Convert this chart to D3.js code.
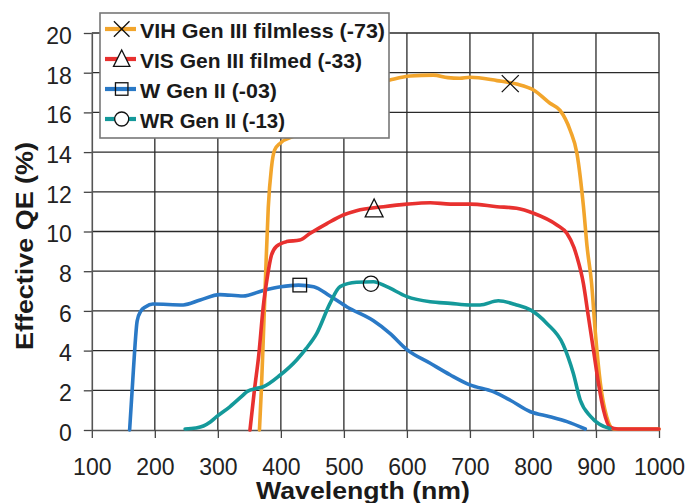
<!DOCTYPE html>
<html>
<head>
<meta charset="utf-8">
<script src="https://cdn.jsdelivr.net/npm/d3@7/dist/d3.min.js"></script>
<style>
  html, body { margin: 0; padding: 0; background: #fff; }
  svg { display: block; font-family: "Liberation Sans", Arial, sans-serif; }
</style>
</head>
<body>
<svg id="chart" width="689" height="503"></svg>
<script>
// ---- Data ----
const xTicks = [100, 200, 300, 400, 500, 600, 700, 800, 900, 1000];
const yTicks = [0, 2, 4, 6, 8, 10, 12, 14, 16, 18, 20];

const seriesNames = ["VIH Gen III filmless (-73)", "VIS Gen III filmed (-33)", "W Gen II (-03)", "WR Gen II (-13)"];
const seriesColors = ["#f2a52c", "#e8312f", "#2a79c6", "#14999a"];
const seriesMarkers = ["x", "triangle", "square", "circle"];

const vihData = [[366,0],[369,2],[372,4.5],[376,8],[380,11.2],[385,13.2],[390,14.1],[399,14.45],[425,14.86],[452,15.45],[478,16.2],[515,17.1],[542,17.38],[573,17.63],[605,17.83],[642,17.88],[665,17.75],[684,17.72],[700,17.77],[743,17.6],[774,17.43],[801,17.13],[827,16.46],[843,16.1],[859,15.1],[870,13.9],[880,11.3],[886,9.2],[893,7.4],[899,4.9],[907,2.35],[917,0.67],[928,0.05],[1000,0.05]];
const visData = [[351,0],[358,2],[365,3.8],[372,6.2],[378,7.6],[385,8.8],[393,9.25],[409,9.49],[430,9.57],[446,9.9],[473,10.4],[499,10.83],[520,11.05],[563,11.25],[600,11.38],[637,11.45],[669,11.38],[700,11.38],[743,11.25],[774,11.17],[801,10.92],[838,10.33],[854,9.9],[865,9.2],[870,8.7],[880,7.39],[888,5.7],[896,4.03],[904,2.35],[912,1.0],[922,0.15],[935,0.05],[1000,0.05]];
const wData = [[160,0],[165,2.5],[168,4],[172,5.5],[178,6],[185,6.2],[197,6.35],[245,6.3],[272,6.55],[303,6.82],[340,6.75],[372,7.03],[400,7.22],[428,7.3],[452,7.22],[478,6.75],[505,6.2],[547,5.5],[573,4.87],[600,4.05],[637,3.36],[669,2.77],[700,2.27],[737,1.93],[764,1.5],[796,0.92],[827,0.67],[854,0.42],[883,0.05]];
const wrData = [[248,0.05],[265,0.1],[277,0.2],[288,0.4],[298,0.67],[319,1.17],[340,1.76],[346,1.93],[362,2.1],[372,2.18],[399,2.77],[425,3.53],[440,4.1],[457,4.87],[478,6.38],[494,7.22],[520,7.44],[547,7.47],[568,7.22],[600,6.72],[637,6.46],[669,6.38],[700,6.3],[716,6.3],[745,6.51],[774,6.3],[796,6.05],[822,5.37],[848,4.3],[864,2.86],[875,1.51],[891,0.7],[905,0.3],[922,0.08]];

// marker positions on the curves [wavelength, QE]
const markerPoints = [[764, 17.45], [548, 11.14], [430, 7.3], [543, 7.37]];

const allSeries = [vihData, visData, wData, wrData];
const drawOrder = [2, 0, 1, 3];

// ---- Layout ----
const svg = d3.select("#chart");
const x = d3.scaleLinear().domain([100, 1000]).range([91.8, 659]);
const y = d3.scaleLinear().domain([0, 20]).range([430, 33]);
const font = '"Liberation Sans", Arial, sans-serif';

// gridlines
const grid = svg.append("g");
grid.selectAll("line.v").data(xTicks.slice(1)).join("line")
  .attr("x1", d => x(d)).attr("x2", d => x(d))
  .attr("y1", y(0)).attr("y2", y(20))
  .attr("stroke", "#2a2a2a").attr("stroke-width", 1.3);
grid.selectAll("line.h").data(yTicks.slice(1)).join("line")
  .attr("x1", x(100)).attr("x2", x(1000))
  .attr("y1", d => y(d)).attr("y2", d => y(d))
  .attr("stroke", "#2a2a2a").attr("stroke-width", 1.3);

// axes
const xAxis = svg.append("g").attr("transform", `translate(0,${y(0)})`)
  .call(d3.axisBottom(x).tickValues(xTicks).tickFormat(d3.format("d"))
    .tickSizeInner(8).tickSizeOuter(0).tickPadding(21));
const yAxis = svg.append("g").attr("transform", `translate(${x(100)},0)`)
  .call(d3.axisLeft(y).tickValues(yTicks).tickFormat(d3.format("d"))
    .tickSizeInner(8).tickSizeOuter(0).tickPadding(12));
[xAxis, yAxis].forEach(a => {
  a.select(".domain").attr("stroke", "#555").attr("stroke-width", 1.6);
  a.selectAll(".tick line").attr("stroke", "#444").attr("stroke-width", 1.3);
  a.selectAll(".tick text").attr("fill", "#222").style("font-size", "23px").style("font-family", font);
});
yAxis.selectAll(".tick text").attr("dy", "0.45em");

// lines
const line = d3.line().x(d => x(d[0])).y(d => y(d[1])).curve(d3.curveMonotoneX);
const linesG = svg.append("g");
drawOrder.forEach(i => {
  linesG.append("path").datum(allSeries[i])
    .attr("d", line)
    .attr("fill", "none")
    .attr("stroke", seriesColors[i])
    .attr("stroke-width", 3.6)
    .attr("stroke-linejoin", "round")
    .attr("stroke-linecap", "round");
});

// marker drawing
function drawMarker(g, type, cx, cy, s, fill) {
  if (type === "x") {
    g.append("path").attr("d", `M${cx-s},${cy-s}L${cx+s},${cy+s}M${cx-s},${cy+s}L${cx+s},${cy-s}`)
      .attr("stroke", "#111").attr("stroke-width", 1.3).attr("fill", "none");
  } else if (type === "triangle") {
    const h = s * 2.1;
    g.append("path").attr("d", `M${cx},${cy - h*0.55}L${cx + s*1.05},${cy + h*0.45}L${cx - s*1.05},${cy + h*0.45}Z`)
      .attr("stroke", "#111").attr("stroke-width", 1.3).attr("fill", fill);
  } else if (type === "square") {
    g.append("rect").attr("x", cx - s*0.8).attr("y", cy - s*0.8).attr("width", s*1.6).attr("height", s*1.6)
      .attr("stroke", "#111").attr("stroke-width", 1.3).attr("fill", fill);
  } else if (type === "circle") {
    g.append("circle").attr("cx", cx).attr("cy", cy).attr("r", s*0.9)
      .attr("stroke", "#111").attr("stroke-width", 1.3).attr("fill", fill);
  }
}
const markG = svg.append("g");
markerPoints.forEach((p, i) => drawMarker(markG, seriesMarkers[i], x(p[0]), y(p[1]), 8.5, "none"));

// legend
const leg = svg.append("g");
leg.append("rect").attr("x", 100).attr("y", 13).attr("width", 289).attr("height", 125)
  .attr("fill", "#fff").attr("stroke", "#777").attr("stroke-width", 1.6);
seriesNames.forEach((name, i) => {
  const by = 38 + i * 30;
  const ly = by - 9;
  leg.append("line").attr("x1", 105).attr("x2", 136).attr("y1", ly).attr("y2", ly)
    .attr("stroke", seriesColors[i]).attr("stroke-width", 4.2);
  drawMarker(leg, seriesMarkers[i], 121.7, ly, 7.8, (seriesMarkers[i] === "square" || seriesMarkers[i] === "x") ? "none" : "#fff");
  leg.append("text").attr("x", 140).attr("y", by)
    .attr("fill", "#1a1a1a").style("font-size", "21px").style("font-weight", "bold").style("font-family", font)
    .attr("textLength", 245).attr("lengthAdjust", "spacingAndGlyphs")
    .attr("textLength", [245, 222, 137, 145][i])
    .text(name);
});

// axis titles
svg.append("text").attr("x", 363).attr("y", 499).attr("text-anchor", "middle")
  .attr("fill", "#1a1a1a").style("font-size", "23px").style("font-weight", "bold").style("font-family", font)
  .attr("textLength", 214).attr("lengthAdjust", "spacingAndGlyphs")
  .text("Wavelength (nm)");
svg.append("text").attr("transform", "translate(33,246) rotate(-90)").attr("text-anchor", "middle")
  .attr("fill", "#1a1a1a").style("font-size", "23px").style("font-weight", "bold").style("font-family", font)
  .attr("textLength", 208).attr("lengthAdjust", "spacingAndGlyphs")
  .text("Effective QE (%)");
</script>
</body>
</html>
